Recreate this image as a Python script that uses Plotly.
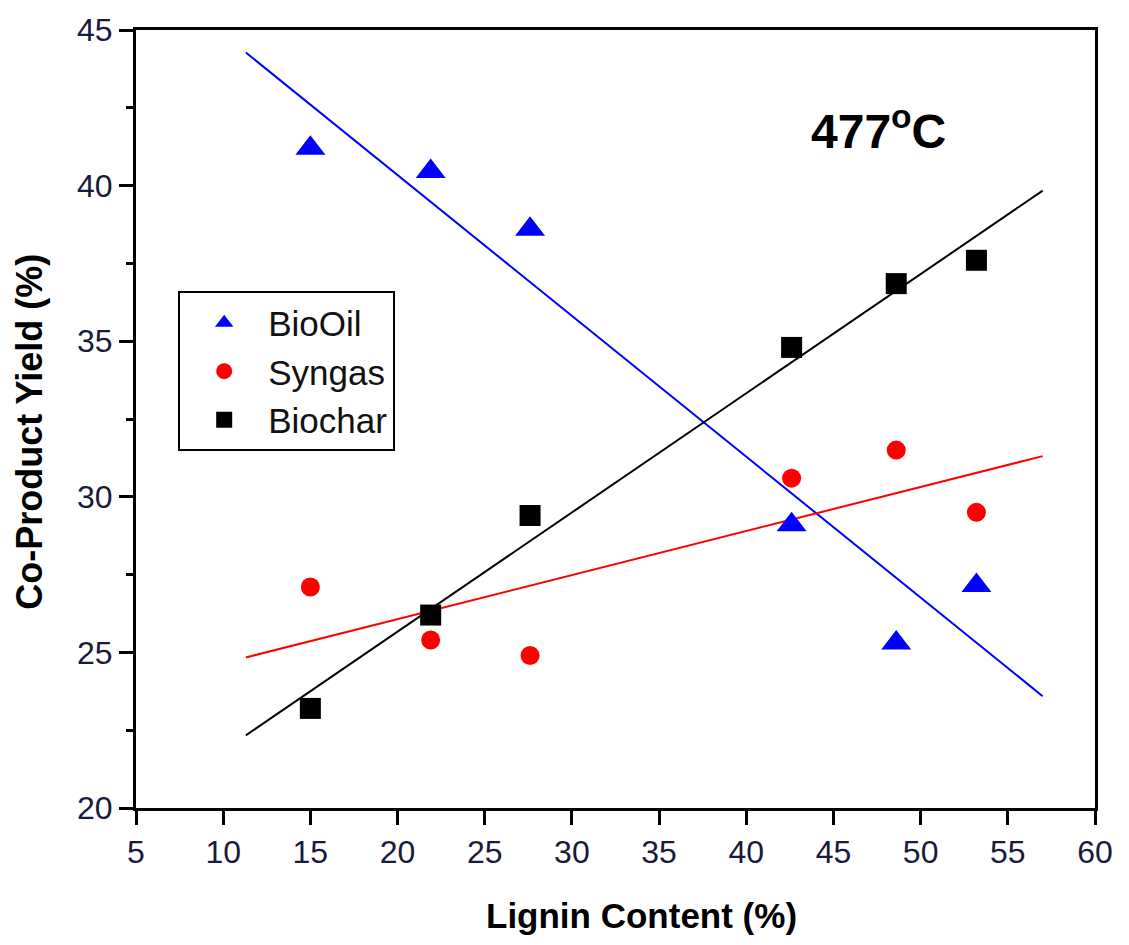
import numpy as np
import plotly.graph_objects as go

lignin = [15.0, 21.9, 27.6, 42.6, 48.6, 53.2]
biooil = [41.2, 40.45, 38.6, 29.1, 25.3, 27.15]
syngas = [27.1, 25.4, 24.9, 30.6, 31.5, 29.5]
biochar = [23.2, 26.2, 29.4, 34.8, 36.85, 37.6]
fit_range = [11.3, 57.0]

series = [
    ("BioOil", biooil, "blue", "triangle-up", 26),
    ("Syngas", syngas, "red", "circle", 19),
    ("Biochar", biochar, "black", "square", 21),
]

fig = go.Figure()
fx = np.array(fit_range)
for name, ys, color, sym, size in series:
    k, b = np.polyfit(lignin, ys, 1)
    fig.add_trace(go.Scatter(x=fx, y=k * fx + b, mode="lines",
                             line=dict(color=color, width=2), showlegend=False,
                             hoverinfo="skip"))
for name, ys, color, sym, size in series:
    fig.add_trace(go.Scatter(x=lignin, y=ys, mode="markers", name=name,
                             legendgroup=name,
                             marker=dict(color=color, symbol=sym, size=size,
                                         line=dict(width=0))))

font = "Liberation Sans, Arial, sans-serif"
fig.update_layout(
    width=1129, height=945,
    margin=dict(l=136, r=34, t=27, b=137),
    plot_bgcolor="white", paper_bgcolor="white",
    font=dict(family=font, size=30, color="black"),
    showlegend=True,
    legend=dict(x=0.044, y=0.664, xanchor="left", yanchor="top",
                bordercolor="black", borderwidth=2, bgcolor="white",
                font=dict(size=35, color="#111"), tracegroupgap=0,
                itemwidth=78),
    xaxis=dict(range=[5, 60], dtick=5, tick0=5, showgrid=False, zeroline=False,
               showline=True, linecolor="black", linewidth=3, mirror=True,
               ticks="outside", ticklen=14, tickwidth=3, tickcolor="black",
               tickfont=dict(size=32, color="#1a1a3a")),
    yaxis=dict(range=[20, 45], dtick=5, showgrid=False, zeroline=False,
               showline=True, linecolor="black", linewidth=3, mirror=True,
               ticks="outside", ticklen=14, tickwidth=3, tickcolor="black",
               tickfont=dict(size=32, color="#1a1a3a"),
               minor=dict(dtick=2.5, ticks="outside", ticklen=7, tickwidth=3, tickcolor="black")),
    annotations=[
        dict(x=47.6, y=41.85, xref="x", yref="y", showarrow=False,
             text="<b>477<sup>o</sup>C</b>", font=dict(size=48, color="black")),
        dict(x=0.527, y=-0.138, xref="paper", yref="paper", showarrow=False,
             xanchor="center", yanchor="middle",
             text="<b>Lignin Content (%)</b>", font=dict(size=35, color="black")),
        dict(x=-0.111, y=0.483, xref="paper", yref="paper", showarrow=False,
             xanchor="center", yanchor="middle", textangle=-90,
             text="<b>Co-Product Yield (%)</b>", font=dict(size=36, color="black")),
    ],
)

fig.write_html("out.html")
